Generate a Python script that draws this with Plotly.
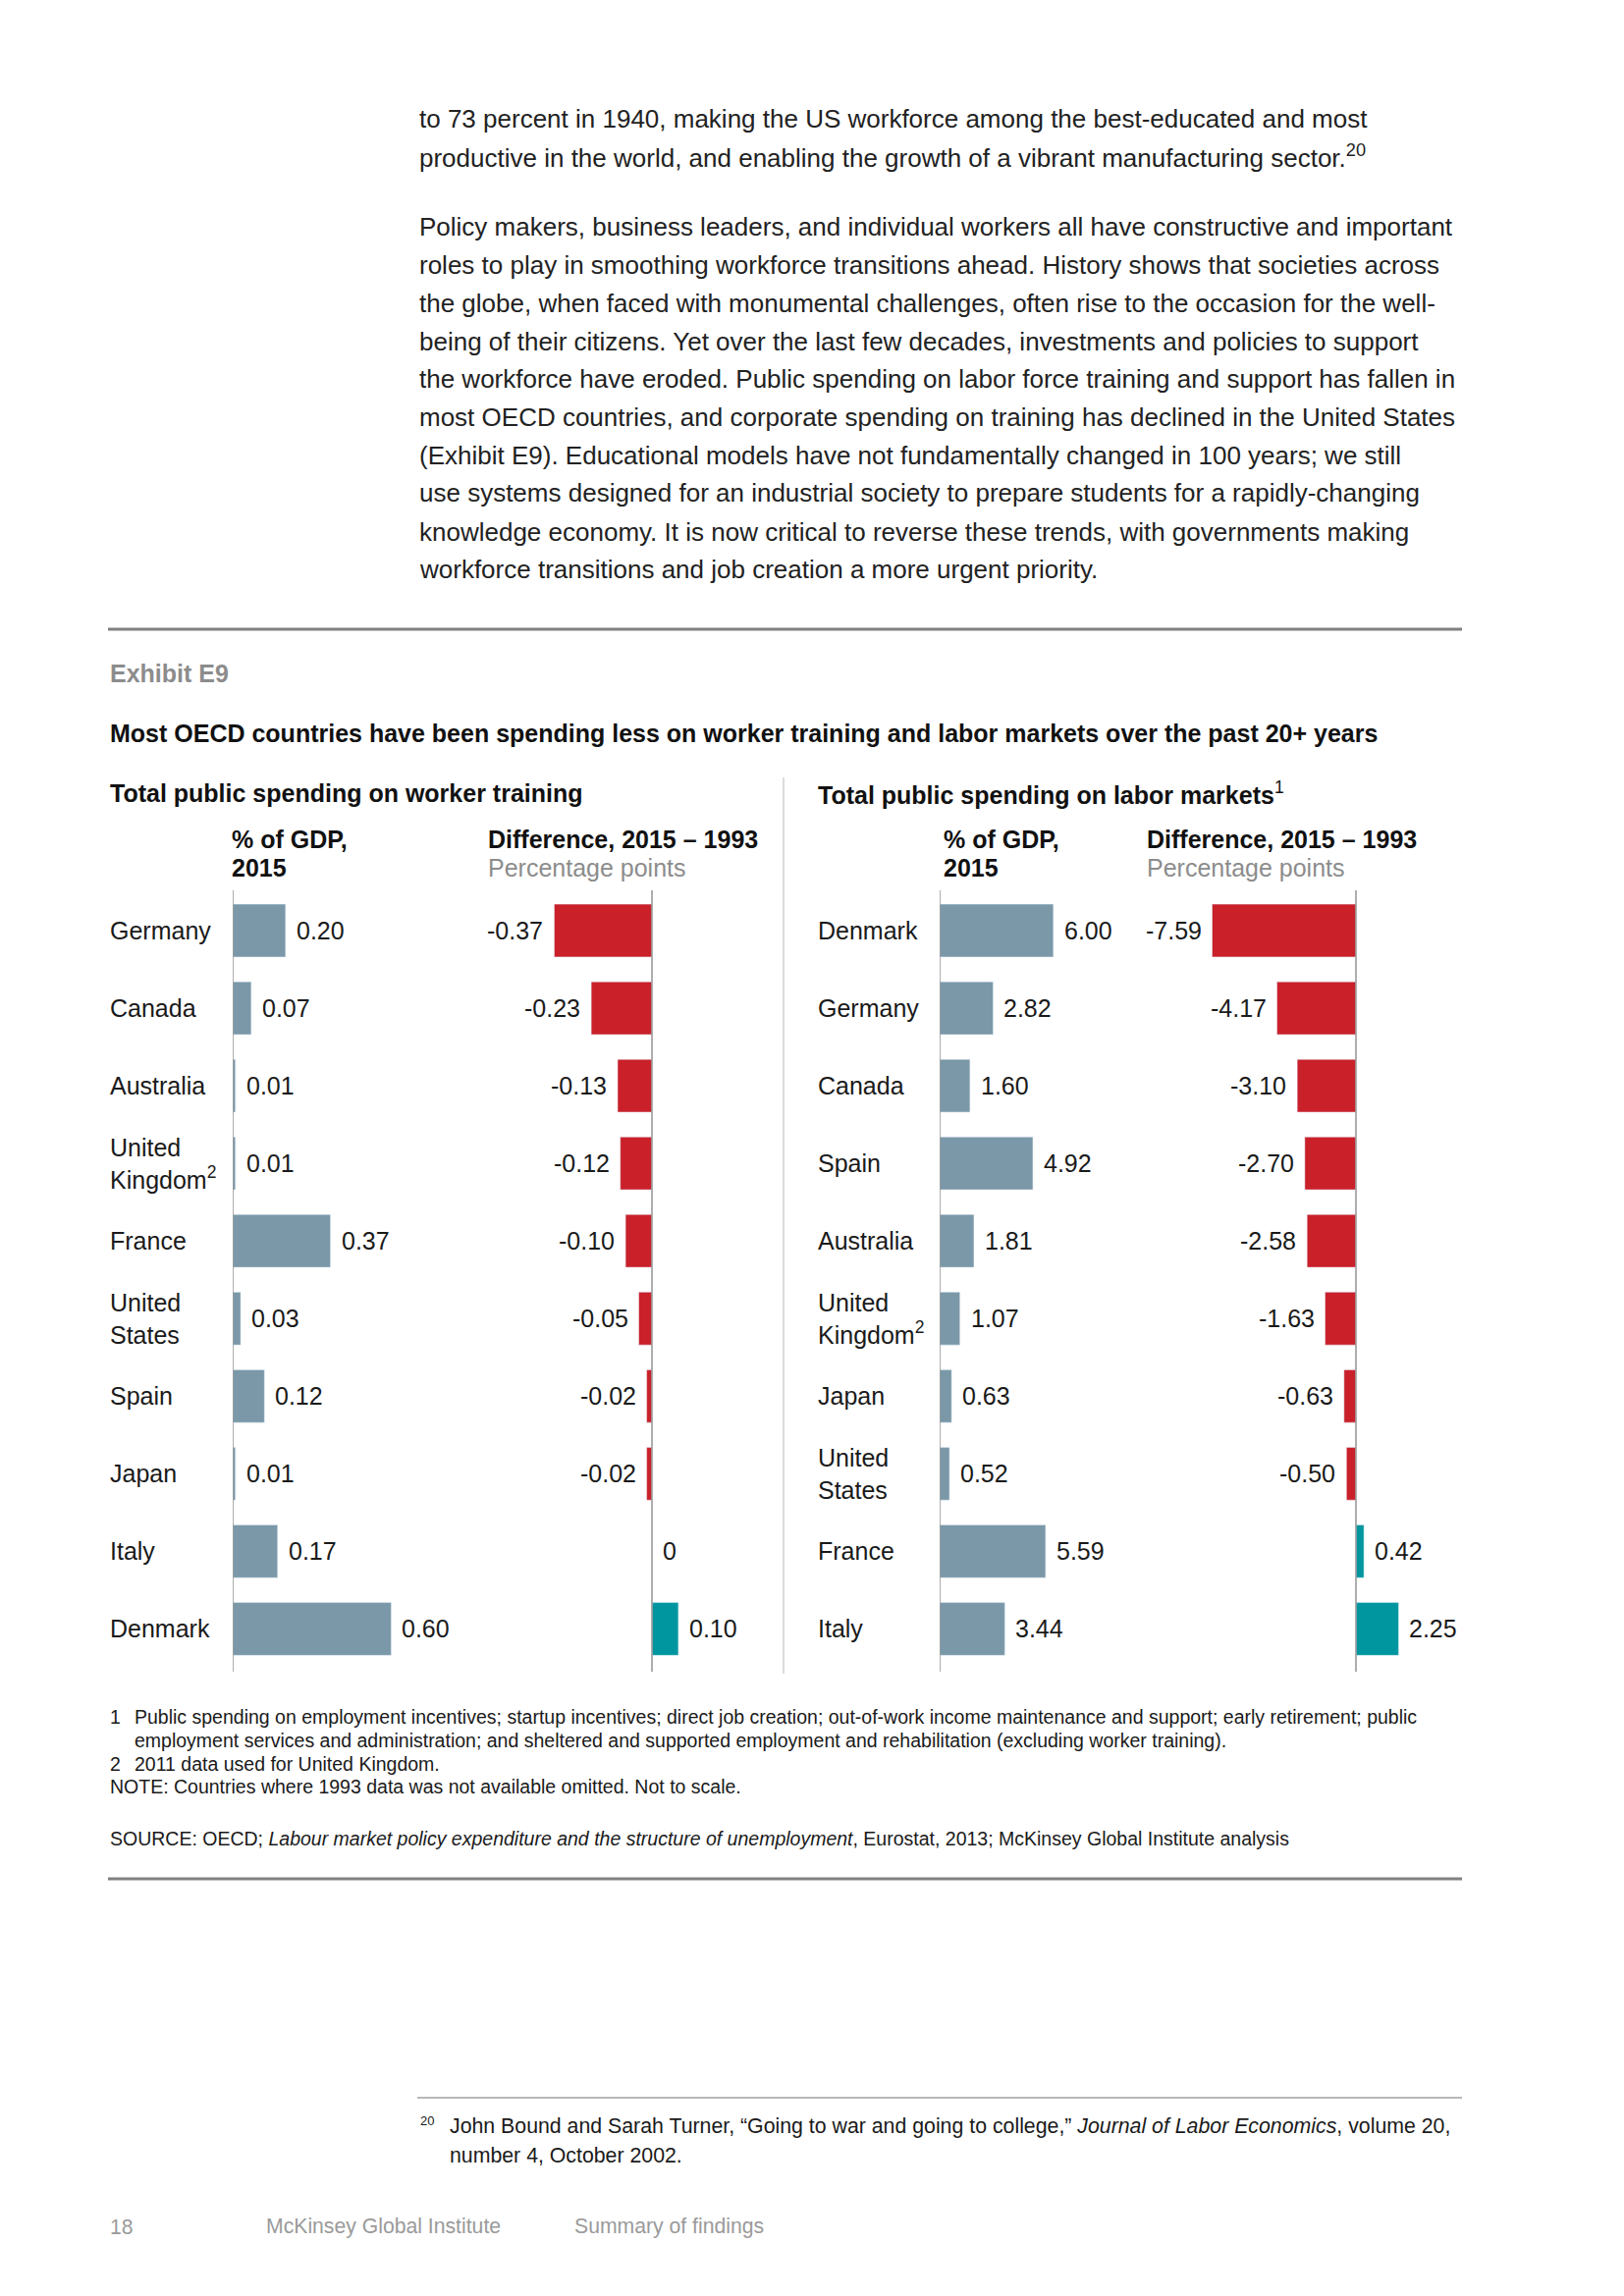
import plotly.graph_objects as go

W, H = 1654, 2339

# ---------------- data ----------------
train_countries = ["Germany", "Canada", "Australia", "United<br>Kingdom<sup>2</sup>", "France",
                   "United<br>States", "Spain", "Japan", "Italy", "Denmark"]
train_gdp = [0.20, 0.07, 0.01, 0.01, 0.37, 0.03, 0.12, 0.01, 0.17, 0.60]
train_gdp_lbl = ["0.20", "0.07", "0.01", "0.01", "0.37", "0.03", "0.12", "0.01", "0.17", "0.60"]
train_diff = [-0.37, -0.23, -0.13, -0.12, -0.10, -0.05, -0.02, -0.02, 0.0, 0.10]
train_diff_lbl = ["-0.37", "-0.23", "-0.13", "-0.12", "-0.10", "-0.05", "-0.02", "-0.02", "0", "0.10"]

labor_countries = ["Denmark", "Germany", "Canada", "Spain", "Australia", "United<br>Kingdom<sup>2</sup>",
                   "Japan", "United<br>States", "France", "Italy"]
labor_gdp = [6.00, 2.82, 1.60, 4.92, 1.81, 1.07, 0.63, 0.52, 5.59, 3.44]
labor_gdp_lbl = ["6.00", "2.82", "1.60", "4.92", "1.81", "1.07", "0.63", "0.52", "5.59", "3.44"]
labor_diff = [-7.59, -4.17, -3.10, -2.70, -2.58, -1.63, -0.63, -0.50, 0.42, 2.25]
labor_diff_lbl = ["-7.59", "-4.17", "-3.10", "-2.70", "-2.58", "-1.63", "-0.63", "-0.50", "0.42", "2.25"]

body_lines = [
    "to 73 percent in 1940, making the US workforce among the best-educated and most",
    "productive in the world, and enabling the growth of a vibrant manufacturing sector.<sup>20</sup>",
    "Policy makers, business leaders, and individual workers all have constructive and important",
    "roles to play in smoothing workforce transitions ahead. History shows that societies across",
    "the globe, when faced with monumental challenges, often rise to the occasion for the well-",
    "being of their citizens. Yet over the last few decades, investments and policies to support",
    "the workforce have eroded. Public spending on labor force training and support has fallen in",
    "most OECD countries, and corporate spending on training has declined in the United States",
    "(Exhibit E9). Educational models have not fundamentally changed in 100 years; we still",
    "use systems designed for an industrial society to prepare students for a rapidly-changing",
    "knowledge economy. It is now critical to reverse these trends, with governments making",
    "workforce transitions and job creation a more urgent priority.",
]
body_y = [121, 160, 231, 270, 309, 347.5, 386, 425, 464, 502.5, 541.5, 580]

# ---------------- style ----------------
FONT = "Liberation Sans, Arial, sans-serif"
C_GDP = "#7A98A8"
C_NEG = "#C9202A"
C_POS = "#00969F"
C_AXIS = "#9A9A9A"
C_TXT = "#1a1a1a"
FS_MAIN = 25


def xp(px):
    return px / W


def yp(py):
    return 1 - py / H


rows = list(range(10))

fig = go.Figure()
# bars
fig.add_trace(go.Bar(x=train_gdp, y=rows, orientation="h", marker_color=C_GDP, width=0.68,
                     xaxis="x", yaxis="y", hoverinfo="skip"))
fig.add_trace(go.Bar(x=train_diff, y=rows, orientation="h",
                     marker_color=[C_NEG if v < 0 else C_POS for v in train_diff], width=0.68,
                     xaxis="x2", yaxis="y", hoverinfo="skip"))
fig.add_trace(go.Bar(x=labor_gdp, y=rows, orientation="h", marker_color=C_GDP, width=0.68,
                     xaxis="x3", yaxis="y", hoverinfo="skip"))
fig.add_trace(go.Bar(x=labor_diff, y=rows, orientation="h",
                     marker_color=[C_NEG if v < 0 else C_POS for v in labor_diff], width=0.68,
                     xaxis="x4", yaxis="y", hoverinfo="skip"))

# axes: pixel-calibrated
s_left = 269.0   # px per unit (left panel)
s_right = 19.3   # px per unit (right panel)
z1, z2, z3, z4 = 237, 664, 957, 1381


def ax(zero, scale, lo, hi):
    return dict(domain=[xp(zero + lo * scale), xp(zero + hi * scale)], range=[lo, hi],
                visible=False, showgrid=False, zeroline=False, fixedrange=True)


y_top, y_bot = 907, 1703
row_px = 79.05
r_lo = -(948 - y_top) / row_px
r_hi = r_lo + (y_bot - y_top) / row_px

fig.update_layout(
    width=W, height=H,
    margin=dict(l=0, r=0, t=0, b=0),
    paper_bgcolor="white", plot_bgcolor="rgba(0,0,0,0)",
    showlegend=False,
    barmode="overlay",
    xaxis=ax(z1, s_left, 0, 0.8),
    xaxis2=dict(ax(z2, s_left, -0.5, 0.5), anchor="y"),
    xaxis3=dict(ax(z3, s_right, 0, 10), anchor="y"),
    xaxis4=dict(ax(z4, s_right, -10, 6), anchor="y"),
    yaxis=dict(domain=[yp(y_bot), yp(y_top)], range=[r_hi, r_lo], visible=False,
               showgrid=False, zeroline=False, fixedrange=True),
    font=dict(family=FONT, color=C_TXT),
)

shapes = []
ann = []


def hline(x0, x1, y, color, width):
    shapes.append(dict(type="line", xref="paper", yref="paper", x0=xp(x0), x1=xp(x1),
                       y0=yp(y), y1=yp(y), line=dict(color=color, width=width)))


def text(x, y, t, size=FS_MAIN, color=C_TXT, bold=False, xanchor="left", yanchor="middle"):
    if bold:
        t = "<b>" + t + "</b>"
    ann.append(dict(xref="paper", yref="paper", x=xp(x), y=yp(y), text=t, showarrow=False,
                    xanchor=xanchor, yanchor=yanchor, align="left",
                    font=dict(family=FONT, size=size, color=color)))


# zero axis lines for the four bar groups
for axn in ["x", "x2", "x3", "x4"]:
    shapes.append(dict(type="line", xref=axn, yref="paper", x0=0, x1=0,
                       y0=yp(y_bot), y1=yp(y_top), line=dict(color=C_AXIS, width=1.6)))

# rules
hline(110, 1489, 641, "#808080", 3)
hline(110, 1489, 1914, "#808080", 3)
hline(425, 1489, 2137, "#A0A0A0", 1.5)
# divider between panels
shapes.append(dict(type="line", xref="paper", yref="paper", x0=xp(798), x1=xp(798),
                   y0=yp(1705), y1=yp(792), line=dict(color="#D0D0D0", width=1.5)))

# body text
for t, y in zip(body_lines, body_y):
    text(425, y, t, size=26, color="#222222")

# exhibit titles
text(110, 686, "Exhibit E9", color="#8C8C8C", bold=True)
text(110, 747, "Most OECD countries have been spending less on worker training and labor markets over the past 20+ years",
     bold=True, color="#111111")
text(110, 808, "Total public spending on worker training", bold=True, color="#111111")
text(831, 808, "<b>Total public spending on labor markets</b><sup>1</sup>", color="#111111")

# column headers
for gx, dx in [(234, 495), (959, 1166)]:
    text(gx, 855, "% of GDP,", bold=True, color="#111111")
    text(gx, 884, "2015", bold=True, color="#111111")
    text(dx, 855, "Difference, 2015 \u2013 1993", bold=True, color="#111111")
    text(dx, 884, "Percentage points", color="#8C8C8C")

# country labels
for i, c in enumerate(train_countries):
    ann.append(dict(xref="paper", yref="y", x=xp(110), y=i, text=c, showarrow=False,
                    xanchor="left", yanchor="middle", align="left",
                    font=dict(family=FONT, size=FS_MAIN, color=C_TXT)))
for i, c in enumerate(labor_countries):
    ann.append(dict(xref="paper", yref="y", x=xp(831), y=i, text=c, showarrow=False,
                    xanchor="left", yanchor="middle", align="left",
                    font=dict(family=FONT, size=FS_MAIN, color=C_TXT)))


# value labels
def vlabels(axn, vals, lbls):
    for i, (v, l) in enumerate(zip(vals, lbls)):
        neg = v < 0
        ann.append(dict(xref=axn, yref="y", x=v, y=i, text=l, showarrow=False,
                        xanchor="right" if neg else "left", yanchor="middle",
                        xshift=-9 if neg else 9,
                        font=dict(family=FONT, size=FS_MAIN, color=C_TXT)))


vlabels("x", train_gdp, train_gdp_lbl)
vlabels("x2", train_diff, train_diff_lbl)
vlabels("x3", labor_gdp, labor_gdp_lbl)
vlabels("x4", labor_diff, labor_diff_lbl)

# footnotes
FS = 19.5
text(110, 1749, "1", size=FS)
text(135, 1749, "Public spending on employment incentives; startup incentives; direct job creation; out-of-work income maintenance and support; early retirement; public", size=FS)
text(135, 1773, "employment services and administration; and sheltered and supported employment and rehabilitation (excluding worker training).", size=FS)
text(110, 1797, "2", size=FS)
text(135, 1797, "2011 data used for United Kingdom.", size=FS)
text(110, 1820, "NOTE: Countries where 1993 data was not available omitted. Not to scale.", size=FS)
text(110, 1873, "SOURCE: OECD; <i>Labour market policy expenditure and the structure of unemployment</i>, Eurostat, 2013; McKinsey Global Institute analysis", size=FS)

# page footnote 20
text(426, 2160, "20", size=13)
text(456, 2166, "John Bound and Sarah Turner, \u201cGoing to war and going to college,\u201d <i>Journal of Labor Economics</i>, volume 20,", size=21.3)
text(456, 2196, "number 4, October 2002.", size=21.3)

# page footer
text(110, 2268, "18", size=21.2, color="#9A9A9A")
text(269, 2268, "McKinsey Global Institute", size=21.2, color="#9A9A9A")
text(583, 2268, "Summary of findings", size=21.2, color="#9A9A9A")

fig.update_layout(shapes=shapes, annotations=ann)
fig.write_html("out.html")
